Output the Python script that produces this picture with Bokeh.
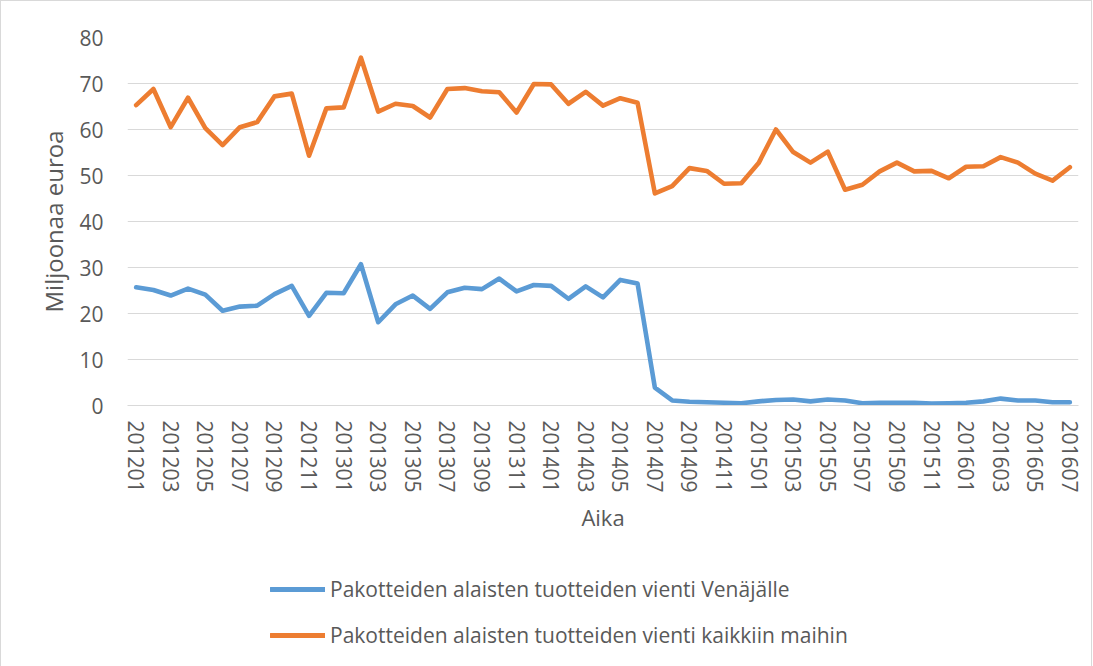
from bokeh.plotting import figure
from bokeh.layouts import column
from bokeh.models import Range1d, SingleIntervalTicker, FixedTicker, Legend, LegendItem
from bokeh.embed import file_html
from bokeh.resources import INLINE

months = [f"{y}{m:02d}" for y in (2012, 2013, 2014, 2015, 2016) for m in range(1, 13)]
months = months[:55]  # 201201 .. 201607

russia = [25.7, 25.1, 23.9, 25.4, 24.1, 20.6, 21.5, 21.7, 24.2, 26.0, 19.5, 24.5,
          24.4, 30.7, 18.1, 22.0, 23.9, 21.0, 24.6, 25.6, 25.3, 27.6, 24.8, 26.2,
          26.0, 23.2, 25.9, 23.5, 27.3, 26.5, 3.9, 1.1, 0.8, 0.7, 0.6, 0.5,
          0.9, 1.2, 1.3, 0.9, 1.3, 1.1, 0.5, 0.6, 0.6, 0.6, 0.4, 0.5,
          0.6, 0.9, 1.5, 1.1, 1.1, 0.7, 0.7]
all_countries = [65.3, 68.8, 60.5, 66.9, 60.3, 56.6, 60.5, 61.6, 67.2, 67.8, 54.3, 64.6,
                 64.8, 75.6, 63.9, 65.6, 65.1, 62.6, 68.8, 69.0, 68.3, 68.1, 63.7, 69.9,
                 69.8, 65.6, 68.2, 65.2, 66.8, 65.8, 46.1, 47.7, 51.6, 51.0, 48.2, 48.3,
                 52.7, 60.0, 55.1, 52.8, 55.2, 46.9, 48.0, 50.9, 52.8, 50.9, 51.0, 49.4,
                 51.9, 52.0, 54.0, 52.8, 50.4, 48.9, 51.8]
series_names = ["Pakotteiden alaisten tuotteiden vienti Venäjälle",
                "Pakotteiden alaisten tuotteiden vienti kaikkiin maihin"]
x_label = "Aika"
y_label = "Miljoonaa euroa"

FONT = "Open Sans"
TXT = "#595959"
BLUE = "#5B9BD5"
ORANGE = "#ED7D31"
W = 1090

xs = list(range(len(months)))

p = figure(width=W, height=550, x_range=Range1d(-0.5, len(months) - 0.5), y_range=Range1d(0, 80),
           output_backend="svg", toolbar_location=None,
           min_border_left=126, min_border_right=13, min_border_top=36, min_border_bottom=146)
p.outline_line_color = None

r1 = p.line(xs, russia, line_color=BLUE, line_width=4.6, line_join="round", line_cap="round")
r2 = p.line(xs, all_countries, line_color=ORANGE, line_width=4.6, line_join="round", line_cap="round")

p.xgrid.grid_line_color = None
p.ygrid.grid_line_color = "#d9d9d9"
p.ygrid.grid_line_width = 1

p.yaxis.ticker = SingleIntervalTicker(interval=10)
p.yaxis.axis_line_color = None
p.yaxis.major_tick_line_color = None
p.yaxis.minor_tick_line_color = None
p.yaxis.major_tick_in = 0
p.yaxis.major_tick_out = 0
p.yaxis.major_label_standoff = 20
p.yaxis.major_label_text_font = FONT
p.yaxis.major_label_text_font_size = "21px"
p.yaxis.major_label_text_color = TXT
p.yaxis.axis_label = y_label
p.yaxis.axis_label_text_font = FONT
p.yaxis.axis_label_text_font_size = "24px"
p.yaxis.axis_label_text_font_style = "normal"
p.yaxis.axis_label_text_color = TXT
p.yaxis.axis_label_standoff = 6

p.xaxis.ticker = FixedTicker(ticks=xs[::2])
p.xaxis.major_label_overrides = {i: months[i] for i in xs}
p.xaxis.axis_line_color = "#d9d9d9"
p.xaxis.major_tick_line_color = None
p.xaxis.minor_tick_line_color = None
p.xaxis.major_tick_in = 0
p.xaxis.major_tick_out = 0
p.xaxis.major_label_orientation = "vertical"
p.xaxis.major_label_standoff = 15
p.xaxis.major_label_text_font = FONT
p.xaxis.major_label_text_font_size = "21px"
p.xaxis.major_label_text_color = TXT
p.xaxis.axis_label = x_label
p.xaxis.axis_label_text_font = FONT
p.xaxis.axis_label_text_font_size = "22px"
p.xaxis.axis_label_text_font_style = "normal"
p.xaxis.axis_label_text_color = TXT
p.xaxis.axis_label_standoff = 6

# legend lives in its own strip below the chart; its lines reuse the series data
# but the strip's y range keeps them out of view, so only the legend shows
q = figure(width=W, height=115, x_range=Range1d(-0.5, len(months) - 0.5), y_range=Range1d(-200, -100),
           x_axis_type=None, y_axis_type=None, output_backend="svg", toolbar_location=None,
           min_border_left=126, min_border_top=0, min_border_right=13, min_border_bottom=0)
q.outline_line_color = None
q.grid.grid_line_color = None
l1 = q.line(xs, russia, line_color=BLUE, line_width=4.8, line_cap="round")
l2 = q.line(xs, all_countries, line_color=ORANGE, line_width=4.8, line_cap="round")

legend = Legend(items=[LegendItem(label=series_names[0], renderers=[l1]),
                       LegendItem(label=series_names[1], renderers=[l2])],
                location=(143, 17), orientation="vertical",
                glyph_width=55, glyph_height=24, label_height=24, spacing=18,
                label_standoff=5, padding=0, margin=0,
                border_line_color=None, background_fill_alpha=0,
                label_text_font=FONT, label_text_font_size="21px", label_text_color=TXT)
q.add_layout(legend, "center")

layout = column(p, q, spacing=0)
layout.styles = {"border-left": "1px solid #d9d9d9", "border-top": "1px solid #d9d9d9",
                 "border-right": "1px solid #d9d9d9"}

open("out.html", "w").write(file_html(layout, INLINE))
